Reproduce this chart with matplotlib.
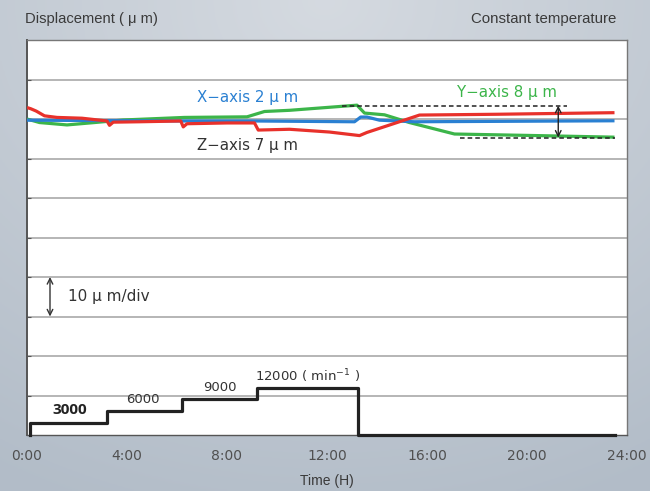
import numpy as np
import matplotlib
matplotlib.use("Agg")
import matplotlib.pyplot as plt

# ---------------- data ----------------
hours_ticks = [0, 4, 8, 12, 16, 20, 24]
tick_labels = ["0:00", "4:00", "8:00", "12:00", "16:00", "20:00", "24:00"]

x_t = [0, 3, 6, 9, 13.1, 13.35, 13.6, 14.1, 15.5, 23.5]
x_v = [-0.3, -0.4, -0.5, -0.5, -0.7, 0.5, 0.5, -0.3, -0.7, -0.45]

y_t = [0, 0.5, 1.6, 2.7, 3.85, 6.3, 8.8, 9.5, 10.5, 13.2, 13.5, 14.3, 15.3, 17.1, 20.4, 23.5]
y_v = [0, -0.9, -1.5, -0.9, -0.25, 0.4, 0.55, 1.9, 2.2, 3.5, 1.5, 1.06, -0.9, -3.8, -4.2, -4.6]

z_t = [0, 0.15, 0.37, 0.7, 1.2, 2.2, 3.2, 3.3, 3.45, 4.5, 6.15, 6.25, 6.4, 8, 9.1, 9.25,
       10.5, 12.1, 13.3, 13.6, 14.8, 15.7, 18.8, 23.5]
z_v = [2.9, 2.6, 2.0, 0.8, 0.4, 0.2, -0.5, -1.6, -0.8, -0.7, -0.5, -2.0, -1.2, -1.0, -1.0, -2.8,
       -2.6, -3.3, -4.2, -3.4, -0.9, 1.0, 1.2, 1.6]

speed_t = [0.12, 0.12, 3.19, 6.19, 9.21, 13.25, 23.5]
speed_v = [0, 3000, 6000, 9000, 12000, 0, 0]
speed_labels = ["3000", "6000", "9000", "12000 ( min$^{-1}$ )"]

y_max_level = 3.37
y_min_level = -4.73

# ---------------- figure ----------------
W, H = 650, 491
fig = plt.figure(figsize=(W / 100, H / 100), dpi=100)

# background gradient
bg = fig.add_axes([0, 0, 1, 1], zorder=-10)
yy, xx = np.mgrid[0:1:200j, 0:1:260j]
d = np.sqrt(((xx - 0.5) * 1.1) ** 2 + (yy * 1.0) ** 2)
top = np.array([0.835, 0.855, 0.880])
edge = np.array([0.70, 0.74, 0.785])
t = np.clip(d / 1.1, 0, 1)[..., None]
img = top * (1 - t) + edge * t
bg.imshow(img, aspect="auto", extent=[0, 1, 0, 1], origin="upper")
bg.axis("off")

L, R, T, B = 27, 627, 40, 435
ax = fig.add_axes([L / W, 1 - B / H, (R - L) / W, (B - T) / H])
ax.set_facecolor("white")
ax.set_xlim(0, 24)
ax.set_ylim(-80, 20)

for g in range(-70, 20, 10):
    ax.axhline(g, color="#a9a9a9", lw=1.2, zorder=1)

for s in ["top", "right"]:
    ax.spines[s].set_color("#777777")
    ax.spines[s].set_linewidth(1.0)
ax.spines["left"].set_color("#555555")
ax.spines["left"].set_linewidth(1.4)
ax.spines["bottom"].set_color("#555555")
ax.spines["bottom"].set_linewidth(1.0)

ax.set_xticks(hours_ticks)
ax.set_xticklabels(tick_labels, fontsize=10, color="#505050", family="DejaVu Sans")
ax.tick_params(axis="x", length=0, pad=10)
ax.set_yticks(list(range(-70, 20, 10)))
ax.set_yticklabels([])
ax.tick_params(axis="y", direction="in", length=3, color="#555555")

red = "#e8312b"
blue = "#2a80d2"
green = "#3cb54a"
ax.plot(y_t, y_v, color=green, lw=2.3, zorder=3, solid_capstyle="butt")
ax.plot(x_t, x_v, color=blue, lw=2.3, zorder=4, solid_capstyle="butt")
ax.plot(z_t, z_v, color=red, lw=2.3, zorder=5, solid_capstyle="butt")

# dashed range lines and arrows
ax.plot([12.6, 21.6], [y_max_level, y_max_level], ls=(0, (3, 2)), color="#222222", lw=1.1, zorder=6)
ax.plot([17.3, 23.5], [y_min_level, y_min_level], ls=(0, (3, 2)), color="#222222", lw=1.1, zorder=6)
ax.annotate("", xy=(21.25, y_max_level), xytext=(21.25, y_min_level),
            arrowprops=dict(arrowstyle="<->", color="#222222", lw=1.0, shrinkA=0, shrinkB=0), zorder=7)
ax.annotate("", xy=(0.92, -40), xytext=(0.92, -50),
            arrowprops=dict(arrowstyle="<->", color="#333333", lw=1.0, shrinkA=0, shrinkB=0), zorder=7)

lab_font = dict(family="DejaVu Sans", fontsize=10.8)
ax.text(6.8, 5.4, "X\u2212axis 2 μ m", color=blue, va="center", ha="left", **lab_font)
ax.text(6.8, -6.8, "Z\u2212axis 7 μ m", color="#333333", va="center", ha="left", **lab_font)
ax.text(17.2, 6.6, "Y\u2212axis 8 μ m", color=green, va="center", ha="left", **lab_font)
ax.text(1.64, -45, "10 μ m/div", color="#333333", va="center", ha="left",
        family="DejaVu Sans", fontsize=11)

# speed on twin axis
ax2 = ax.twinx()
ax2.set_ylim(0, 100000)
ax2.axis("off")
ax2.plot(speed_t, speed_v, drawstyle="steps-post", color="#222222", lw=2.3,
         clip_on=False, zorder=6)
ax2.text(1.0, 6300, speed_labels[0], fontsize=11, fontweight="bold", color="#222222",
         ha="left", va="center", family="Open Sans")
ax2.text(4.64, 8900, speed_labels[1], fontsize=9.5, color="#333333", ha="center", va="center",
         family="DejaVu Sans")
ax2.text(7.72, 11900, speed_labels[2], fontsize=9.5, color="#333333", ha="center", va="center",
         family="DejaVu Sans")
ax2.text(9.12, 15000, speed_labels[3], fontsize=9.5, color="#333333", ha="left", va="center",
         family="DejaVu Sans")

fig.text(25 / W, 1 - 19 / H, "Displacement ( μ m)", fontsize=10.6, color="#3a3a3a",
         ha="left", va="center", family="Liberation Sans")
fig.text(616 / W, 1 - 19 / H, "Constant temperature", fontsize=10.8, color="#3a3a3a",
         ha="right", va="center", family="Liberation Sans")
fig.text(327 / W, 1 - 481 / H, "Time (H)", fontsize=10, color="#3a3a3a",
         ha="center", va="center", family="Liberation Sans")

fig.savefig("out.png", dpi=100)
